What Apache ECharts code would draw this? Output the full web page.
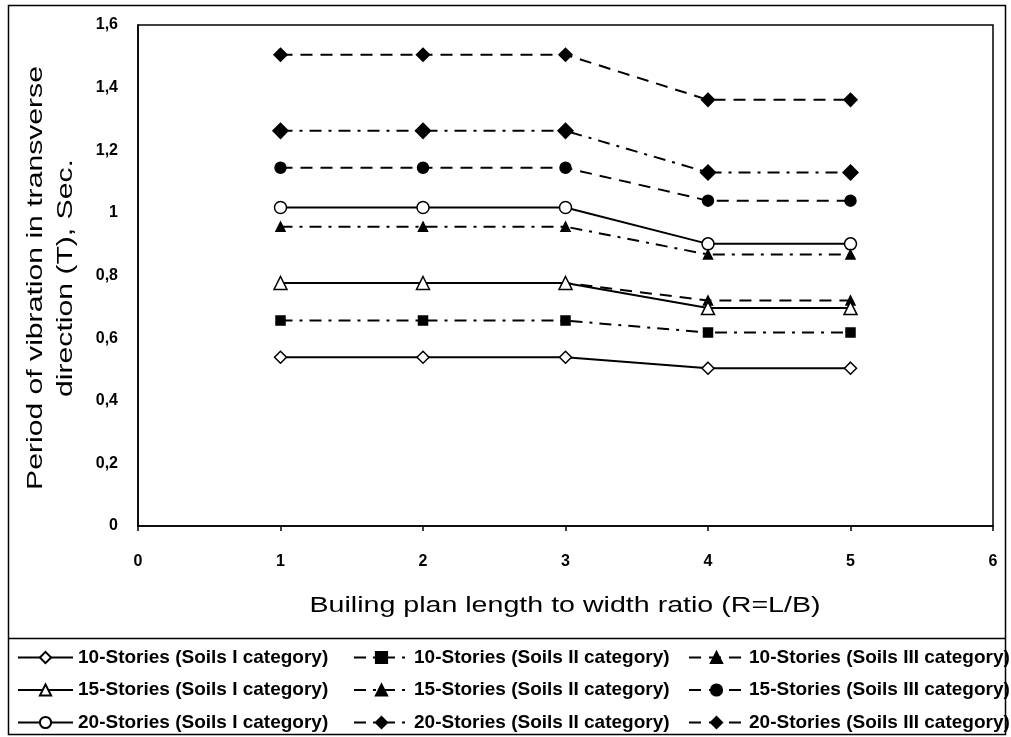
<!DOCTYPE html>
<html>
<head>
<meta charset="utf-8">
<script src="https://cdn.jsdelivr.net/npm/echarts@6/dist/echarts.min.js"></script>
<style>html,body{margin:0;padding:0;background:#fff;}#c{width:1011px;height:737px;}</style>
</head>
<body>
<div id="c"></div>
<script>
// ---- data ----
const ratios = [1, 2, 3, 4, 5];
const xTicks = [0, 1, 2, 3, 4, 5, 6];
const yTicks = [0, 0.2, 0.4, 0.6, 0.8, 1, 1.2, 1.4, 1.6];

const xTitle = 'Builing plan length to width ratio (R=L/B)';
const yTitle = 'Period of vibration in transverse\ndirection (T), Sec.';

const names10I = '10-Stories (Soils I category)';
const names15I = '15-Stories (Soils I category)';
const names20I = '20-Stories (Soils I category)';
const names10II = '10-Stories (Soils II category)';
const names15II = '15-Stories (Soils II category)';
const names20II = '20-Stories (Soils II category)';
const names10III = '10-Stories (Soils III category)';
const names15III = '15-Stories (Soils III category)';
const names20III = '20-Stories (Soils III category)';

const t10I   = [0.539, 0.539, 0.539, 0.504, 0.504];
const t15I   = [0.776, 0.776, 0.776, 0.696, 0.696];
const t20I   = [1.017, 1.017, 1.017, 0.901, 0.901];
const t10II  = [0.656, 0.656, 0.656, 0.618, 0.618];
const t15II  = [0.956, 0.956, 0.956, 0.867, 0.867];
const t20II  = [1.262, 1.262, 1.262, 1.129, 1.129];
const t10III = [0.776, 0.776, 0.776, 0.720, 0.720];
const t15III = [1.144, 1.144, 1.144, 1.039, 1.039];
const t20III = [1.505, 1.505, 1.505, 1.361, 1.361];

const pairs = (ys) => ratios.map((x, i) => [x, ys[i]]);
const DASH = [12, 8];
const DASHDOT = [12, 7, 3, 7];

function mk(name, ys, lineType, symbol, size, filled, z) {
  return {
    name: name, type: 'line', data: pairs(ys), z: z,
    symbol: symbol, symbolSize: size, showSymbol: true,
    lineStyle: { color: '#000', width: 2, type: lineType },
    itemStyle: { color: filled ? '#000' : '#fff', borderColor: '#000', borderWidth: 1.5 },
    emphasis: { disabled: true }, animation: false
  };
}

const series = [
  mk(names10III, t10III, DASH, 'triangle', 9, true, 2),
  mk(names10I, t10I, 'solid', 'diamond', 12, false, 3),
  mk(names15I, t15I, 'solid', 'triangle', 13, false, 4),
  mk(names20I, t20I, 'solid', 'circle', 12, false, 3),
  mk(names10II, t10II, DASHDOT, 'rect', 9, true, 3),
  mk(names15II, t15II, DASHDOT, 'triangle', 9, true, 3),
  mk(names20II, t20II, DASHDOT, 'diamond', 15, true, 3),
  mk(names15III, t15III, DASH, 'circle', 11, true, 3),
  mk(names20III, t20III, DASH, 'diamond', 13, true, 3)
];

const fontFam = '"Liberation Sans", Arial, sans-serif';
function legendCol(left, data) {
  return {
    orient: 'vertical', left: left, top: 643, height: 90,
    itemWidth: 55, itemHeight: 14, itemGap: 13.5,
    data: data, selectedMode: false,
    textStyle: { fontFamily: fontFam, fontSize: 19, fontWeight: 'bold', color: '#000', lineHeight: 18 }
  };
}

const chart = echarts.init(document.getElementById('c'), null, { renderer: 'canvas' });
chart.setOption({
  backgroundColor: '#fff',
  animation: false,
  grid: { left: 138, top: 25, right: 18, bottom: 211, show: true, borderColor: '#000', borderWidth: 1.5 },
  xAxis: {
    type: 'value', min: xTicks[0], max: xTicks[xTicks.length - 1], interval: 1,
    axisLine: { lineStyle: { color: '#000', width: 1.5 } },
    axisTick: { show: true, length: 5, lineStyle: { color: '#000', width: 1.5 } },
    axisLabel: { margin: 28, fontFamily: fontFam, fontSize: 16, fontWeight: 'bold', color: '#000' },
    splitLine: { show: false }
  },
  yAxis: {
    type: 'value', min: yTicks[0], max: yTicks[yTicks.length - 1], interval: 0.2,
    axisLine: { show: true, lineStyle: { color: '#000', width: 1.5 } },
    axisTick: { show: false },
    axisLabel: { margin: 20, fontFamily: fontFam, fontSize: 16, fontWeight: 'bold', color: '#000',
      formatter: (v) => String(Number(v.toFixed(1))).replace('.', ',') },
    splitLine: { show: false }
  },
  legend: [
    legendCol(12, [names10I, names15I, names20I]),
    legendCol(348, [names10II, names15II, names20II]),
    legendCol(683, [names10III, names15III, names20III])
  ],
  graphic: [
    { type: 'rect', shape: { x: 8.5, y: 5.5, width: 997, height: 729 }, style: { fill: null, stroke: '#000', lineWidth: 1.5 }, silent: true },
    { type: 'line', shape: { x1: 8, y1: 638.5, x2: 1006, y2: 638.5 }, style: { stroke: '#000', lineWidth: 1.5 }, silent: true },
    { type: 'text', x: 565, y: 606, scaleX: 1.3, silent: true,
      style: { text: xTitle, font: '22px "Liberation Sans", Arial, sans-serif', fill: '#000', align: 'center', verticalAlign: 'middle' } },
    { type: 'text', x: 51, y: 278, rotation: Math.PI / 2, scaleX: 1.37, silent: true,
      style: { text: yTitle, font: '22px "Liberation Sans", Arial, sans-serif', fill: '#000', align: 'center', verticalAlign: 'middle', lineHeight: 30 } }
  ],
  series: series
});
</script>
</body>
</html>
